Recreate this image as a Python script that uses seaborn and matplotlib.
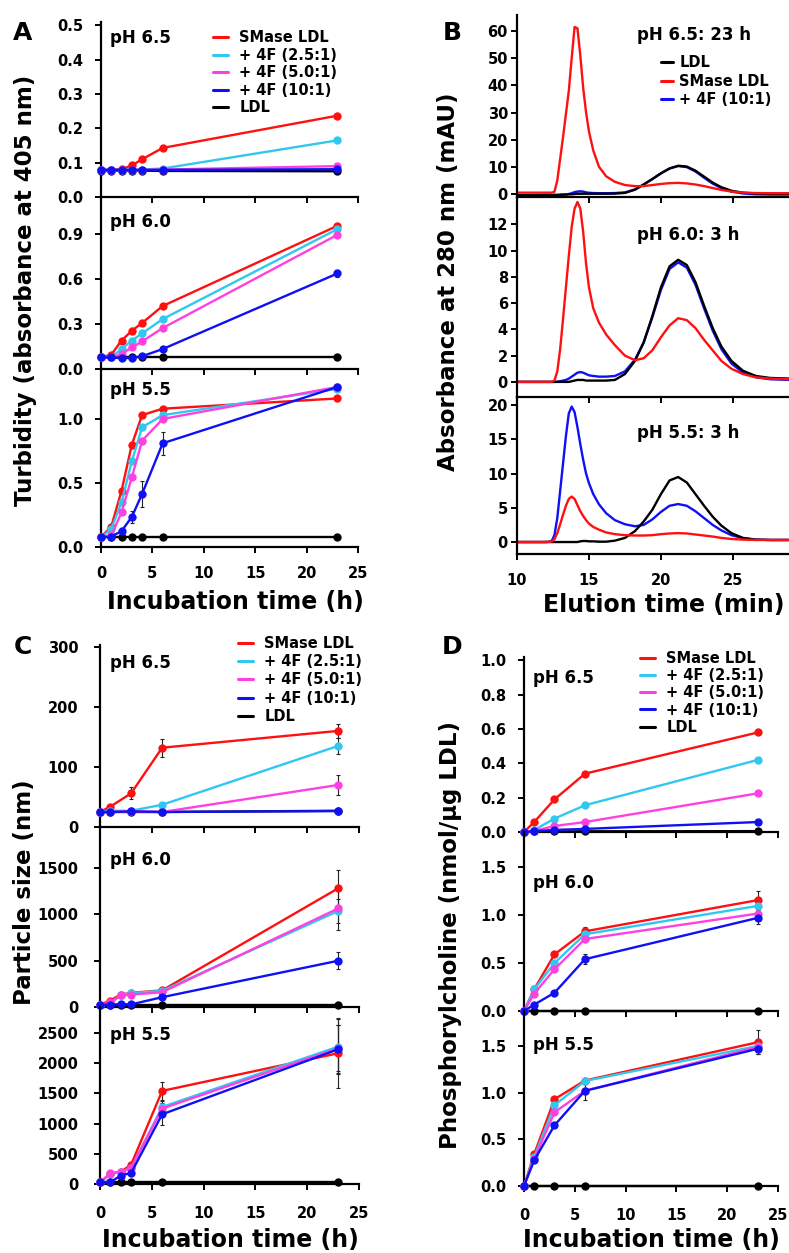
import matplotlib
matplotlib.use("Agg")
import matplotlib.pyplot as plt
import seaborn as sns
from matplotlib.lines import Line2D

# ---------------- data ----------------
SERIES = ["SMase LDL", "+ 4F (2.5:1)", "+ 4F (5.0:1)", "+ 4F (10:1)", "LDL"]
COLORS = ["#FF1010", "#30C8F0", "#FF40E0", "#1010F5", "#000000"]

# Panel A: turbidity
A_T = [0, 1, 2, 3, 4, 6, 23]
A65_SM = [0.079, 0.080, 0.081, 0.092, 0.110, 0.143, 0.237]
A65_25 = [0.079, 0.079, 0.079, 0.079, 0.080, 0.083, 0.165]
A65_50 = [0.079, 0.079, 0.079, 0.079, 0.079, 0.080, 0.090]
A65_10 = [0.079, 0.079, 0.079, 0.079, 0.079, 0.079, 0.081]
A65_LDL = [0.077, 0.077, 0.077, 0.077, 0.077, 0.076, 0.075]

A60_SM = [0.077, 0.095, 0.190, 0.255, 0.307, 0.420, 0.955]
A60_25 = [0.077, 0.080, 0.133, 0.190, 0.237, 0.333, 0.933]
A60_50 = [0.077, 0.077, 0.100, 0.144, 0.184, 0.273, 0.895]
A60_10 = [0.077, 0.077, 0.072, 0.075, 0.085, 0.133, 0.637]
A60_LDL = [0.077, 0.077, 0.077, 0.077, 0.077, 0.077, 0.077]
A60_10_ERR = [0, 0, 0, 0, 0, 0.01, 0.025]

A55_SM = [0.077, 0.160, 0.440, 0.800, 1.030, 1.080, 1.160]
A55_25 = [0.077, 0.140, 0.350, 0.670, 0.935, 1.030, 1.235]
A55_50 = [0.077, 0.090, 0.270, 0.545, 0.830, 1.000, 1.250]
A55_10 = [0.077, 0.080, 0.125, 0.235, 0.415, 0.810, 1.250]
A55_LDL = [0.077, 0.077, 0.077, 0.077, 0.077, 0.077, 0.077]
A55_10_ERR = [0, 0, 0.02, 0.05, 0.10, 0.09, 0.02]

# Panel B: chromatograms
B_T = [10, 11, 12, 12.4, 12.6, 12.8, 13.0, 13.2, 13.4, 13.6, 13.8, 14.0, 14.2,
       14.4, 14.6, 14.8, 15.0, 15.3, 15.7, 16.2, 16.8, 17.5, 18.2, 18.8, 19.4,
       20.0, 20.6, 21.2, 21.8, 22.4, 23.0, 23.6, 24.2, 24.9, 25.7, 26.6, 27.6, 29.0]
B65_LDL = [-0.4, -0.4, -0.3, -0.3, -0.3, -0.3, -0.2, -0.2, -0.2, -0.1, -0.1, 0.0, 0.1,
           0.1, 0.1, 0.1, 0.1, 0.1, 0.1, 0.1, 0.15, 0.4, 1.6, 3.5, 5.5,
           7.6, 9.4, 10.4, 10.1, 8.6, 6.4, 4.2, 2.5, 1.2, 0.5, 0.2, 0.1, 0.1]
B65_SM = [0.5, 0.5, 0.5, 0.5, 0.8, 5.0, 13.0, 21.0, 29.5, 38.0, 50.0, 61.5, 61.0,
          51.0, 39.0, 30.0, 23.0, 16.0, 10.0, 6.5, 4.5, 3.3, 2.9, 2.9, 3.3,
          3.7, 4.0, 4.1, 3.9, 3.5, 2.9, 2.2, 1.5, 0.9, 0.5, 0.35, 0.3, 0.3]
B65_10 = [-1.0, -0.9, -0.7, -0.6, -0.5, -0.5, -0.4, -0.3, -0.2, 0.0, 0.3, 0.7, 0.9,
          1.0, 0.9, 0.6, 0.45, 0.35, 0.3, 0.3, 0.35, 0.6, 1.7, 3.5, 5.5,
          7.6, 9.4, 10.3, 9.9, 8.3, 6.0, 3.8, 2.2, 0.9, 0.2, -0.1, -0.2, -0.2]
B60_LDL = [0, 0, 0, 0, 0, 0, 0, 0, 0, 0, 0.05, 0.1, 0.15,
           0.15, 0.15, 0.1, 0.1, 0.1, 0.1, 0.1, 0.15, 0.6, 1.6, 3.0, 5.0,
           7.2, 8.8, 9.3, 8.9, 7.6, 5.8, 4.1, 2.7, 1.6, 0.85, 0.45, 0.3, 0.25]
B60_SM = [0, 0, 0, 0, 0.1, 0.8, 2.5, 4.8, 7.2, 9.6, 11.8, 13.2, 13.7,
          13.2, 11.4, 9.0, 7.2, 5.6, 4.5, 3.6, 2.8, 2.0, 1.65, 1.8, 2.4,
          3.4, 4.3, 4.85, 4.7, 4.1, 3.2, 2.4, 1.6, 1.0, 0.6, 0.35, 0.25, 0.2]
B60_10 = [0, 0, 0, 0, 0, 0.02, 0.05, 0.1, 0.15, 0.25, 0.4, 0.55, 0.7,
          0.75, 0.7, 0.6, 0.5, 0.45, 0.4, 0.4, 0.45, 0.8, 1.7, 3.0, 4.9,
          7.0, 8.6, 9.1, 8.7, 7.4, 5.6, 3.9, 2.5, 1.4, 0.7, 0.35, 0.2, 0.15]
B55_LDL = [0, 0, 0, 0, 0, 0, 0, 0, 0, 0, 0, 0, 0,
           0.1, 0.15, 0.15, 0.1, 0.1, 0.05, 0.05, 0.2, 0.6, 1.6, 3.0, 4.7,
           7.0, 9.0, 9.5, 8.7, 7.0, 5.3, 3.7, 2.4, 1.3, 0.6, 0.35, 0.3, 0.3]
B55_SM = [0, 0, 0, 0.05, 0.4, 1.3, 2.6, 4.0, 5.3, 6.3, 6.65, 6.3, 5.4,
          4.5, 3.8, 3.2, 2.7, 2.2, 1.8, 1.4, 1.15, 1.0, 0.95, 0.95, 1.0,
          1.15, 1.25, 1.3, 1.25, 1.1, 0.95, 0.8, 0.6, 0.45, 0.35, 0.3, 0.3, 0.3]
B55_10 = [0, 0, 0, 0.1, 1.0, 3.5, 7.5, 11.5, 15.5, 18.8, 19.8, 19.0, 16.8,
          14.3, 12.0, 10.0, 8.6, 7.0, 5.5, 4.2, 3.2, 2.6, 2.3, 2.5, 3.3,
          4.4, 5.3, 5.55, 5.3, 4.5, 3.5, 2.5, 1.7, 1.0, 0.55, 0.35, 0.3, 0.3]

# Panel C: particle size
C_T65 = [0, 1, 3, 6, 23]
C65_SM = [25, 34, 56, 132, 160]
C65_SM_ERR = [0, 3, 10, 15, 12]
C65_25 = [25, 27, 27, 37, 135]
C65_25_ERR = [0, 0, 0, 3, 13]
C65_50 = [25, 25, 26, 25, 70]
C65_50_ERR = [0, 0, 0, 0, 17]
C65_10 = [25, 25, 26, 25, 26.5]
C65_LDL = [25, 25, 25, 25, 27]

C_T = [0, 1, 2, 3, 6, 23]
C60_SM = [25, 70, 135, 153, 180, 1283]
C60_SM_ERR = [0, 0, 0, 0, 0, 200]
C60_25 = [25, 35, 130, 150, 175, 1038]
C60_25_ERR = [0, 0, 0, 0, 0, 130]
C60_50 = [25, 50, 125, 134, 160, 1065]
C60_50_ERR = [0, 0, 0, 0, 0, 230]
C60_10 = [25, 25, 30, 28, 106, 500]
C60_10_ERR = [0, 0, 0, 0, 0, 90]
C60_LDL = [25, 25, 25, 25, 25, 25]

C55_SM = [25, 170, 200, 320, 1543, 2167]
C55_SM_ERR = [0, 0, 0, 0, 150, 580]
C55_25 = [25, 165, 200, 260, 1277, 2277]
C55_25_ERR = [0, 0, 0, 0, 100, 450]
C55_50 = [25, 180, 200, 270, 1250, 2250]
C55_50_ERR = [0, 0, 0, 0, 0, 380]
C55_10 = [25, 30, 140, 183, 1155, 2233]
C55_10_ERR = [0, 0, 0, 0, 180, 400]
C55_LDL = [25, 25, 25, 25, 25, 25]

# Panel D: phosphorylcholine
D_T = [0, 1, 3, 6, 23]
D65_SM = [0, 0.058, 0.19, 0.34, 0.58]
D65_25 = [0, 0.012, 0.078, 0.156, 0.42]
D65_50 = [0, 0.006, 0.035, 0.058, 0.225]
D65_10 = [0, 0.005, 0.012, 0.018, 0.058]
D65_LDL = [0, 0.003, 0.003, 0.004, 0.005]

D60_SM = [0, 0.225, 0.59, 0.83, 1.155]
D60_SM_ERR = [0, 0, 0, 0.04, 0.10]
D60_25 = [0, 0.225, 0.50, 0.80, 1.095]
D60_50 = [0, 0.18, 0.435, 0.75, 1.015]
D60_10 = [0, 0.066, 0.19, 0.54, 0.97]
D60_10_ERR = [0, 0, 0, 0.05, 0.06]
D60_LDL = [0, 0, 0, 0, 0]

D55_SM = [0, 0.34, 0.93, 1.13, 1.54]
D55_SM_ERR = [0, 0, 0, 0, 0.13]
D55_25 = [0, 0.31, 0.865, 1.125, 1.50]
D55_50 = [0, 0.29, 0.79, 1.02, 1.49]
D55_10 = [0, 0.275, 0.65, 1.02, 1.47]
D55_10_ERR = [0, 0, 0, 0.10, 0.06]
D55_LDL = [0, 0, 0, 0, 0]

# ---------------- setup ----------------
sns.set_theme(style="ticks")
plt.rcParams["font.family"] = ["DejaVu Sans"]
plt.rcParams["font.weight"] = "bold"
plt.rcParams["text.color"] = "black"
plt.rcParams["axes.labelcolor"] = "black"
plt.rcParams["axes.edgecolor"] = "black"
plt.rcParams["xtick.color"] = "black"
plt.rcParams["ytick.color"] = "black"
plt.rcParams["xtick.labelcolor"] = "black"
plt.rcParams["ytick.labelcolor"] = "black"
plt.rcParams["legend.labelcolor"] = "black"

W, H = 789, 1253
fig = plt.figure(figsize=(W / 100, H / 100), dpi=100)


def rect(l, r, t, b):
    return [l / W, 1 - b / H, (r - l) / W, (b - t) / H]


def fx(x):
    return x / W


def fy(y):
    return 1 - y / H


TICK_FS = 10.5


def style(ax, xlim, ylim, yticks, yfmt, xticks, show_x, ypad, xpad):
    ax.set_facecolor("none")
    ax.set_xlim(*xlim)
    ax.set_ylim(*ylim)
    ax.set_yticks(yticks)
    ax.set_yticklabels([yfmt.format(v) for v in yticks])
    ax.set_xticks(xticks)
    ax.set_xticklabels([str(v) for v in xticks] if show_x else [])
    ax.set_xlabel("")
    ax.set_ylabel("")
    for s in ["top", "right"]:
        ax.spines[s].set_visible(False)
    for s in ["left", "bottom"]:
        ax.spines[s].set_linewidth(1.6)
        ax.spines[s].set_color("black")
    ax.tick_params(axis="both", direction="out", length=4.5, width=1.4,
                   colors="black", labelcolor="black", labelsize=TICK_FS)
    ax.tick_params(axis="y", pad=ypad)
    ax.tick_params(axis="x", pad=xpad)
    for lab in ax.get_xticklabels() + ax.get_yticklabels():
        lab.set_fontweight("bold")
        lab.set_color("black")


def timecourse(ax, t, series, errs):
    # order: LDL first, then SMase, 2.5, 5.0, 10 on top
    order = [4, 0, 1, 2, 3]
    for i in order:
        y = series[i]
        sns.lineplot(x=t, y=y, ax=ax, color=COLORS[i], linewidth=1.7,
                     marker="o", markersize=6, markeredgewidth=0,
                     clip_on=False, zorder=3 + order.index(i), errorbar=None,
                     sort=False)
        e = errs[i]
        if e is not None:
            ax.errorbar(t, y, yerr=e, fmt="none", ecolor="#222222",
                        elinewidth=0.8, capsize=1.6, capthick=0.8,
                        zorder=2, clip_on=False)


def legend(ax, handles_idx, x, y, hl, htp, ls):
    handles = [Line2D([], [], color=COLORS[i], lw=2.2) for i in handles_idx]
    labels = [SERIES[i] for i in handles_idx]
    ax.legend(handles, labels, loc="upper left",
              bbox_to_anchor=(fx(x), fy(y)), bbox_transform=fig.transFigure,
              frameon=False, borderpad=0, borderaxespad=0, handlelength=hl,
              handletextpad=htp, labelspacing=ls, labelcolor="black",
              prop={"weight": "bold", "size": 10.5})


def ftext(x, y, s, size, **kw):
    fig.text(fx(x), fy(y), s, fontsize=size, fontweight="bold",
             color="black", **kw)


PH_FS = 12
XT = [0, 5, 10, 15, 20, 25]

# ---------------- Panel A ----------------
a1 = fig.add_axes(rect(101, 358, 22, 197))
timecourse(a1, A_T, [A65_SM, A65_25, A65_50, A65_10, A65_LDL], [None] * 5)
style(a1, (0, 25), (0, 0.51), [0, 0.1, 0.2, 0.3, 0.4, 0.5], "{:.1f}", XT, False, 8, 9)
a2 = fig.add_axes(rect(101, 358, 197, 369))
timecourse(a2, A_T, [A60_SM, A60_25, A60_50, A60_10, A60_LDL],
           [None, None, None, A60_10_ERR, None])
style(a2, (0, 25), (0, 1.147), [0, 0.3, 0.6, 0.9], "{:.1f}", XT, False, 8, 9)
a3 = fig.add_axes(rect(101, 358, 369, 547))
timecourse(a3, A_T, [A55_SM, A55_25, A55_50, A55_10, A55_LDL],
           [None, None, None, A55_10_ERR, None])
style(a3, (0, 25), (0, 1.39), [0, 0.5, 1.0], "{:.1f}", XT, True, 8, 9)
legend(a1, [0, 1, 2, 3, 4], 213, 30, 1.05, 0.75, 0.18)
ftext(110, 38, "pH 6.5", PH_FS, va="center")
ftext(110, 222, "pH 6.0", PH_FS, va="center")
ftext(110, 390, "pH 5.5", PH_FS, va="center")
ftext(26, 290, "Turbidity (absorbance at 405 nm)", 16.5, rotation=90,
      ha="center", va="center")
ftext(235, 602, "Incubation time (h)", 17, ha="center", va="center")
ftext(23, 33, "A", 18, ha="center", va="center")

# ---------------- Panel B ----------------
BX = (10, 28.9)
BXT = [10, 15, 20, 25]
b1 = fig.add_axes(rect(517, 789, 15, 197))
b2 = fig.add_axes(rect(517, 789, 197, 397))
b3 = fig.add_axes(rect(517, 789, 397, 554))
for ax, curves in [(b1, (B65_10, B65_LDL, B65_SM)),
                   (b2, (B60_10, B60_LDL, B60_SM)),
                   (b3, (B55_10, B55_LDL, B55_SM))]:
    for y, ci in zip(curves, [3, 4, 0]):
        sns.lineplot(x=B_T, y=y, ax=ax, color=COLORS[ci], linewidth=1.7,
                     errorbar=None, sort=False)
style(b1, BX, (-1.1, 65.9), [0, 10, 20, 30, 40, 50, 60], "{:d}", BXT, False, 2, 9)
style(b2, BX, (-1.15, 14.08), [0, 2, 4, 6, 8, 10, 12], "{:d}", BXT, False, 2, 9)
style(b3, BX, (-1.75, 21.2), [0, 5, 10, 15, 20], "{:d}", BXT, True, 2, 9)
handles = [Line2D([], [], color=COLORS[i], lw=2.2) for i in [4, 0, 3]]
b1.legend(handles, ["LDL", "SMase LDL", "+ 4F (10:1)"], loc="upper left",
          bbox_to_anchor=(fx(661), fy(55)), bbox_transform=fig.transFigure,
          frameon=False, borderpad=0, borderaxespad=0, handlelength=0.85,
          handletextpad=0.4, labelspacing=0.25, labelcolor="black",
          prop={"weight": "bold", "size": 10.5})
ftext(637, 35, "pH 6.5: 23 h", PH_FS, va="center")
ftext(637, 235, "pH 6.0: 3 h", PH_FS, va="center")
ftext(637, 433, "pH 5.5: 3 h", PH_FS, va="center")
ftext(448, 282, "Absorbance at 280 nm (mAU)", 16.5, rotation=90,
      ha="center", va="center")
ftext(664, 605, "Elution time (min)", 17, ha="center", va="center")
ftext(452, 33, "B", 18, ha="center", va="center")

# ---------------- Panel C ----------------
c1 = fig.add_axes(rect(100, 359, 645, 827))
timecourse(c1, C_T65, [C65_SM, C65_25, C65_50, C65_10, C65_LDL],
           [C65_SM_ERR, C65_25_ERR, C65_50_ERR, None, None])
style(c1, (0, 25), (0, 303), [0, 100, 200, 300], "{:d}", XT, False, 11, 9)
c2 = fig.add_axes(rect(100, 359, 827, 1007))
timecourse(c2, C_T, [C60_SM, C60_25, C60_50, C60_10, C60_LDL],
           [C60_SM_ERR, C60_25_ERR, C60_50_ERR, C60_10_ERR, None])
style(c2, (0, 25), (0, 1945), [0, 500, 1000, 1500], "{:d}", XT, False, 11, 9)
c3 = fig.add_axes(rect(100, 359, 1007, 1184))
timecourse(c3, C_T, [C55_SM, C55_25, C55_50, C55_10, C55_LDL],
           [C55_SM_ERR, C55_25_ERR, C55_50_ERR, C55_10_ERR, None])
style(c3, (0, 25), (0, 2933), [0, 500, 1000, 1500, 2000, 2500], "{:d}", XT, True, 11, 11)
legend(c1, [0, 1, 2, 3, 4], 238, 636, 1.05, 0.75, 0.22)
ftext(110, 663, "pH 6.5", PH_FS, va="center")
ftext(110, 860, "pH 6.0", PH_FS, va="center")
ftext(110, 1035, "pH 5.5", PH_FS, va="center")
ftext(25, 892, "Particle size (nm)", 16.5, rotation=90, ha="center", va="center")
ftext(230, 1240, "Incubation time (h)", 17, ha="center", va="center")
ftext(23, 647, "C", 18, ha="center", va="center")

# ---------------- Panel D ----------------
d1 = fig.add_axes(rect(524, 778, 657, 832))
timecourse(d1, D_T, [D65_SM, D65_25, D65_50, D65_10, D65_LDL], [None] * 5)
style(d1, (0, 25), (0, 1.02), [0, 0.2, 0.4, 0.6, 0.8, 1.0], "{:.1f}", XT, False, 8, 9)
d2 = fig.add_axes(rect(524, 778, 832, 1011))
timecourse(d2, D_T, [D60_SM, D60_25, D60_50, D60_10, D60_LDL],
           [D60_SM_ERR, None, None, D60_10_ERR, None])
style(d2, (0, 25), (0, 1.865), [0, 0.5, 1.0, 1.5], "{:.1f}", XT, False, 8, 9)
d3 = fig.add_axes(rect(524, 778, 1011, 1186))
timecourse(d3, D_T, [D55_SM, D55_25, D55_50, D55_10, D55_LDL],
           [D55_SM_ERR, None, None, D55_10_ERR, None])
style(d3, (0, 25), (0, 1.875), [0, 0.5, 1.0, 1.5], "{:.1f}", XT, True, 8, 11)
legend(d1, [0, 1, 2, 3, 4], 640, 651, 1.05, 0.75, 0.15)
ftext(533, 678, "pH 6.5", PH_FS, va="center")
ftext(533, 883, "pH 6.0", PH_FS, va="center")
ftext(533, 1045, "pH 5.5", PH_FS, va="center")
ftext(450, 935, "Phosphorylcholine (nmol/µg LDL)", 16.5, rotation=90,
      ha="center", va="center")
ftext(651, 1240, "Incubation time (h)", 17, ha="center", va="center")
ftext(452, 647, "D", 18, ha="center", va="center")

fig.savefig("out.png", dpi=100, facecolor="white")
